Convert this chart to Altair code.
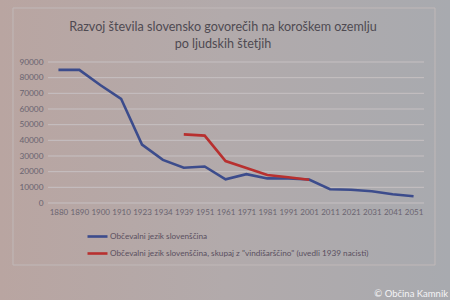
import altair as alt
import pandas as pd

years = ["1880", "1890", "1900", "1910", "1923", "1934", "1939", "1951", "1961",
         "1971", "1981", "1991", "2001", "2011", "2021", "2031", "2041", "2051"]
blue_vals = [85000, 85000, 75300, 66500, 37300, 27500, 22500, 23300, 15100,
             18400, 15700, 15600, 15000, 8800, 8500, 7500, 5600, 4300]
red_years = ["1939", "1951", "1961", "1971", "1981", "1991", "2001"]
red_vals = [43800, 43000, 26800, 22300, 17900, 16400, 14800]
y_ticks = [0, 10000, 20000, 30000, 40000, 50000, 60000, 70000, 80000, 90000]
title_lines = ["Razvoj števila slovensko govorečih na koroškem ozemlju", "po ljudskih štetjih"]

s_blue = "Občevalni jezik slovenščina"
s_red = 'Občevalni jezik slovenščina, skupaj z "vindišarščino" (uvedli 1939 nacisti)'

df = pd.concat([
    pd.DataFrame({"leto": years, "stevilo": blue_vals, "serija": s_blue}),
    pd.DataFrame({"leto": red_years, "stevilo": red_vals, "serija": s_red}),
])

W, H = 376, 141
FONT = "Lato"

y_axis = alt.Axis(title=None, values=y_ticks, format="d", labelFontSize=8.3,
                  labelColor="#6a6470", labelFont=FONT, domain=False, ticks=False,
                  labelPadding=5, labelOverlap=False, grid=False, zindex=1)
y_scale = alt.Scale(domain=[0, 90000])

bg = alt.Chart(pd.DataFrame({"a": [0]})).mark_rect(
    fill=alt.Gradient(
        gradient="linear",
        stops=[alt.GradientStop(color="#b9a5a1", offset=0),
               alt.GradientStop(color="#b2aaab", offset=0.5),
               alt.GradientStop(color="#a8aaaf", offset=1)],
        x1=0, x2=1, y1=0, y2=0,
    )
).encode(x=alt.value(-48), x2=alt.value(402), y=alt.value(-62), y2=alt.value(238))

frame = alt.Chart(pd.DataFrame({"a": [0]})).mark_rect(
    fill=None, stroke="#c0b8b8", strokeWidth=1
).encode(x=alt.value(-35), x2=alt.value(387), y=alt.value(-54), y2=alt.value(203))

grid = alt.Chart(pd.DataFrame({"stevilo": y_ticks})).mark_rule(
    color="#c6c0c2", strokeWidth=1
).encode(y=alt.Y("stevilo:Q", scale=y_scale, axis=y_axis),
         x=alt.value(0), x2=alt.value(W))

lines = alt.Chart(df).mark_line(strokeWidth=2.6).encode(
    x=alt.X("leto:O", sort=years, scale=alt.Scale(domain=years, paddingOuter=0.5),
            axis=alt.Axis(title=None, labelAngle=0, labelFontSize=8, labelColor="#6a6470",
                          labelFont=FONT, domain=False, ticks=False, labelPadding=5,
                          labelOverlap=False, zindex=1)),
    y=alt.Y("stevilo:Q", scale=y_scale, axis=y_axis),
    color=alt.Color("serija:N", sort=[s_blue, s_red],
                    scale=alt.Scale(domain=[s_blue, s_red], range=["#3c4c8c", "#b8302f"]),
                    legend=alt.Legend(title=None, orient="none", legendX=38, legendY=163,
                                      direction="vertical", symbolType="stroke",
                                      symbolStrokeWidth=2.6, symbolSize=400,
                                      labelFontSize=8.2, labelColor="#5a5060", labelFont=FONT,
                                      labelOffset=1, rowPadding=-4, labelLimit=400,
                                      zindex=1)),
)

def title_line(txt, yv):
    return alt.Chart(pd.DataFrame({"t": [txt]})).mark_text(
        align="center", baseline="middle", fontSize=12.6, color="#4f4a52", font=FONT
    ).encode(text="t:N", x=alt.value(175), y=alt.value(yv))

t1 = title_line(title_lines[0], -35)
t2 = title_line(title_lines[1], -18)

copy = alt.Chart(pd.DataFrame({"t": ["© Občina Kamnik"]})).mark_text(
    align="right", baseline="bottom", fontSize=9.5, color="#f4f4f6", font=FONT
).encode(text="t:N", x=alt.value(400), y=alt.value(237))

chart = alt.layer(bg, frame, grid, lines, t1, t2, copy).properties(
    width=W, height=H,
    padding={"left": 48, "top": 62, "right": 26, "bottom": 97},
    autosize=alt.AutoSizeParams(type="none"),
).configure_view(stroke=None).configure(background="#b0a8aa")

chart.save("out.html", embed_options={"renderer": "svg", "actions": False})
